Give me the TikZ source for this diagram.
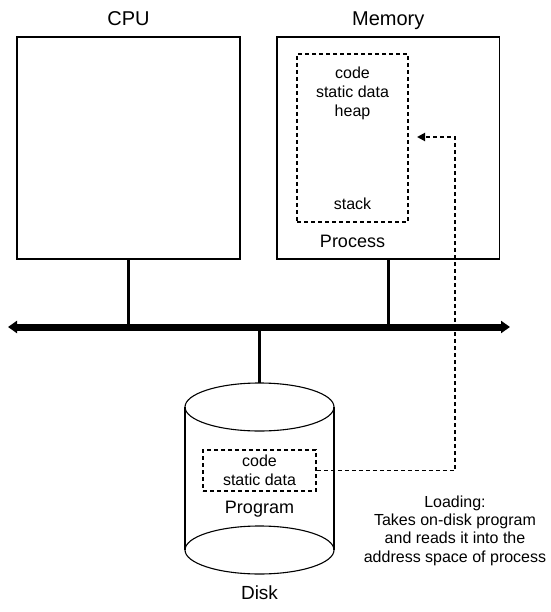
\documentclass[tikz,border=0pt]{standalone}
\usepackage{fontspec}
\setmainfont{Liberation Sans}
\usetikzlibrary{arrows.meta}
\begin{document}
\begin{tikzpicture}[x=1pt,y=-1pt,
  box/.style={draw,line width=1.3pt,inner sep=0pt,minimum width=#1},
  dbox/.style={draw,line width=1.9pt,dash pattern=on 4pt off 3pt,inner sep=0pt},
  title/.style={font=\fontsize{20}{24}\selectfont,inner sep=0pt},
  mid/.style={font=\fontsize{18}{22}\selectfont,inner sep=0pt},
  small/.style={font=\fontsize{16}{19}\selectfont,inner sep=0pt,align=center},
  conn/.style={line width=2.8pt},
  bus/.style={line width=7pt,{Triangle[width=12pt,length=9pt]}-{Triangle[width=12pt,length=9pt]}},
  load/.style={line width=1.9pt,dash pattern=on 4pt off 3pt,-{Triangle[width=8pt,length=8pt]}},
  cyl/.style={line width=1.1pt}]
\useasboundingbox (0,0) rectangle (550,612);
% boxes
\node[box=223pt,minimum height=222pt] (cpu) at (128.5,148) {};
\node[box=222.5pt,minimum height=222pt] (mem) at (388.25,148) {};
\node[title,anchor=base] (cputitle) at (128.5,26) {CPU};
\node[title,anchor=base] (memtitle) at (388.25,26) {Memory};
% process address space
\node[dbox,minimum width=111pt,minimum height=168pt] (as) at (352.5,138) {};
\node[small,anchor=base] (astext) at (352.5,117) {code\\static data\\heap};
\node[small,anchor=base] (stack) at (352.5,209) {stack};
\node[mid,anchor=base] (proc) at (352.5,247) {Process};
% bus
\coordinate (busL) at (8,327);
\coordinate (busR) at (510,327);
\draw[bus] (busL) -- (busR);
\draw[conn] (cpu.south) -- (cpu.south |- busL);
\draw[conn] (mem.south) -- (mem.south |- busL);
% disk
\coordinate (disktop) at (259.5,383);
\draw[conn] (disktop |- busL) -- (disktop);
\draw[cyl] (259.5,407) ellipse [x radius=74.5, y radius=24];
\draw[cyl] (259.5,550) ellipse [x radius=74.5, y radius=24];
\draw[cyl] (185,407) -- (185,550);
\draw[cyl] (334,407) -- (334,550);
\node[dbox,minimum width=113pt,minimum height=41pt] (prog) at (259.5,470.5) {};
\node[small] (progtext) at (259.5,470.5) {code\\static data};
\node[mid,anchor=base] (proglabel) at (259.5,513) {Program};
\node[title,font=\fontsize{19}{23}\selectfont,anchor=base] (disk) at (259.5,599) {Disk};
% loading arrow
\coordinate (turn) at (455,137);
\coordinate (tip) at (417,137);
\draw[load] (prog.east) -| (turn) -- (tip);
\node[small,font=\fontsize{16}{18.3}\selectfont,anchor=base] (loadtext) at (455,562) {Loading:\\Takes on-disk program\\and reads it into the\\address space of process};
\end{tikzpicture}
\end{document}
